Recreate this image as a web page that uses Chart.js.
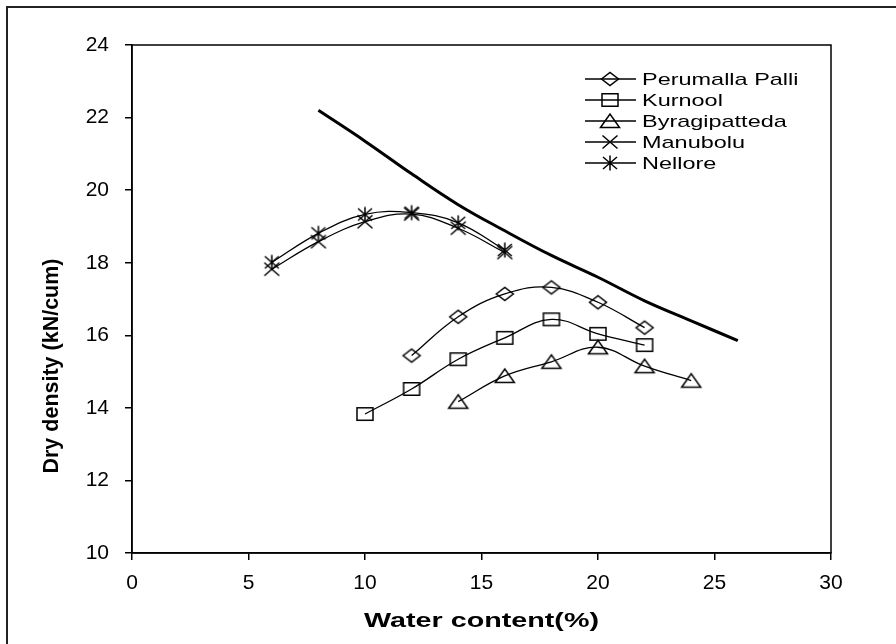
<!DOCTYPE html>
<html>
<head>
<meta charset="utf-8">
<script src="https://cdn.jsdelivr.net/npm/chart.js@4/dist/chart.umd.min.js"></script>
<style>
  body { margin: 0; background: #fff; }
  canvas { display: block; }
</style>
</head>
<body>
<canvas id="chart" width="896" height="644"></canvas>
<script>
// water content (%) and dry density for every soil
const perumallaX = [12, 14, 16, 18, 20, 22];
const perumallaY = [15.44, 16.51, 17.14, 17.32, 16.91, 16.21];
const kurnoolX = [10, 12, 14, 16, 18, 20, 22];
const kurnoolY = [13.83, 14.52, 15.34, 15.93, 16.44, 16.04, 15.73];
const byragiX = [14, 16, 18, 20, 22, 24];
const byragiY = [14.17, 14.88, 15.27, 15.67, 15.15, 14.75];
const manubX = [6, 8, 10, 12, 14, 16];
const manubY = [17.82, 18.58, 19.13, 19.34, 18.95, 18.28];
const nelloreX = [6, 8, 10, 12, 14, 16];
const nelloreY = [18.01, 18.81, 19.33, 19.38, 19.1, 18.35];
// the thick curve without markers
const zavX = [8, 10, 12, 14, 16, 18, 20, 22, 24, 26];
const zavY = [22.2, 21.35, 20.45, 19.6, 18.88, 18.2, 17.6, 16.95, 16.4, 15.85];

const xTicks = [0, 5, 10, 15, 20, 25, 30];
const yTicks = [10, 12, 14, 16, 18, 20, 22, 24];
const xTitle = 'Water content(%)';
const yTitle = 'Dry density (kN/cum)';

const FONT = '"Liberation Sans", Arial, sans-serif';

function pairs(xs, ys) {
  return xs.map(function (x, i) { return { x: x, y: ys[i] }; });
}

// hollow black markers, a bit wider than tall like in the picture
function marker(kind) {
  const c = document.createElement('canvas');
  c.width = 24; c.height = 20;
  const g = c.getContext('2d');
  const cx = 12, cy = 10;
  g.strokeStyle = '#000';
  g.lineWidth = 1.5;
  g.beginPath();
  if (kind === 'diamond') {
    g.moveTo(cx - 8.5, cy); g.lineTo(cx, cy - 6.5); g.lineTo(cx + 8.5, cy); g.lineTo(cx, cy + 6.5); g.closePath();
  } else if (kind === 'square') {
    g.rect(cx - 8, cy - 6.3, 16, 12.6);
  } else if (kind === 'triangle') {
    g.moveTo(cx - 9.5, cy + 6.5); g.lineTo(cx, cy - 7); g.lineTo(cx + 9.5, cy + 6.5); g.closePath();
  } else if (kind === 'x') {
    g.moveTo(cx - 7.5, cy - 6.5); g.lineTo(cx + 7.5, cy + 6.5);
    g.moveTo(cx - 7.5, cy + 6.5); g.lineTo(cx + 7.5, cy - 6.5);
  } else if (kind === 'star') {
    g.moveTo(cx - 7, cy - 6); g.lineTo(cx + 7, cy + 6);
    g.moveTo(cx - 7, cy + 6); g.lineTo(cx + 7, cy - 6);
    g.moveTo(cx, cy - 7.5); g.lineTo(cx, cy + 7.5);
  }
  g.stroke();
  return c;
}

function series(label, xs, ys, kind) {
  return {
    label: label,
    data: pairs(xs, ys),
    borderColor: '#000',
    borderWidth: 1.3,
    backgroundColor: 'transparent',
    pointStyle: marker(kind),
    pointRadius: 8,
    tension: 0.4,
    fill: false
  };
}

const datasets = [
  series('Perumalla Palli', perumallaX, perumallaY, 'diamond'),
  series('Kurnool', kurnoolX, kurnoolY, 'square'),
  series('Byragipatteda', byragiX, byragiY, 'triangle'),
  series('Manubolu', manubX, manubY, 'x'),
  series('Nellore', nelloreX, nelloreY, 'star'),
  {
    label: '',
    data: pairs(zavX, zavY),
    borderColor: '#000',
    borderWidth: 3,
    pointRadius: 0,
    tension: 0.4,
    fill: false
  }
];

// text drawn a little wide, the picture is stretched sideways
function wideText(ctx, text, x, y, stretch) {
  ctx.save();
  ctx.translate(x, y);
  ctx.scale(stretch, 1);
  ctx.fillText(text, 0, 0);
  ctx.restore();
}

// frame, plot box, axis titles and the legend inside the plot
const decor = {
  id: 'decor',
  afterDraw: function (chart) {
    const ctx = chart.ctx;
    const a = chart.chartArea;
    ctx.save();
    ctx.strokeStyle = '#000';
    ctx.lineWidth = 1.5;
    ctx.strokeRect(a.left, a.top, a.right - a.left, a.bottom - a.top);
    ctx.lineWidth = 2;
    ctx.strokeStyle = '#222';
    ctx.beginPath();
    ctx.moveTo(7, 644); ctx.lineTo(7, 7); ctx.lineTo(896, 7);
    ctx.stroke();

    ctx.fillStyle = '#000';
    ctx.textBaseline = 'middle';

    // x title
    ctx.font = 'bold 20.5px ' + FONT;
    ctx.textAlign = 'left';
    const xw = ctx.measureText(xTitle).width * 1.4;
    wideText(ctx, xTitle, (a.left + a.right) / 2 - xw / 2, 621, 1.4);

    // y title
    ctx.save();
    ctx.font = 'bold 21.5px ' + FONT;
    ctx.textAlign = 'center';
    ctx.translate(52.5, 366);
    ctx.rotate(-Math.PI / 2);
    ctx.fillText(yTitle, 0, 0);
    ctx.restore();

    // legend
    ctx.font = '17px ' + FONT;
    ctx.textAlign = 'left';
    let y = 79;
    chart.data.datasets.forEach(function (ds) {
      if (!ds.label) return;
      ctx.strokeStyle = '#000';
      ctx.lineWidth = 1.3;
      ctx.beginPath();
      ctx.moveTo(585, y); ctx.lineTo(636, y);
      ctx.stroke();
      ctx.drawImage(ds.pointStyle, 610 - 12, y - 10);
      wideText(ctx, ds.label, 642, y + 1, 1.38);
      y += 21;
    });
    ctx.restore();
  }
};

const tickFont = { family: FONT, size: 21 };

new Chart(document.getElementById('chart'), {
  type: 'line',
  data: { datasets: datasets },
  options: {
    responsive: false,
    devicePixelRatio: 1,
    animation: false,
    layout: { padding: { left: 42, right: 65, top: 45, bottom: 13 } },
    plugins: { legend: { display: false }, tooltip: { enabled: false } },
    scales: {
      x: {
        type: 'linear',
        min: 0, max: 30,
        afterBuildTicks: function (s) { s.ticks = xTicks.map(function (v) { return { value: v }; }); },
        afterFit: function (s) { s.height = 78; },
        grid: { drawOnChartArea: false, drawTicks: true, tickLength: 7, color: '#000', lineWidth: 1.5 },
        border: { display: true, color: '#000', width: 1.5 },
        ticks: { color: '#000', font: tickFont, padding: 11, maxRotation: 0 }
      },
      y: {
        min: 10, max: 24,
        afterBuildTicks: function (s) { s.ticks = yTicks.map(function (v) { return { value: v }; }); },
        afterFit: function (s) { s.width = 90; },
        grid: { drawOnChartArea: false, drawTicks: true, tickLength: 7, color: '#000', lineWidth: 1.5 },
        border: { display: true, color: '#000', width: 1.5 },
        ticks: { color: '#000', font: tickFont, padding: 16 }
      }
    }
  },
  plugins: [decor]
});
</script>
</body>
</html>
